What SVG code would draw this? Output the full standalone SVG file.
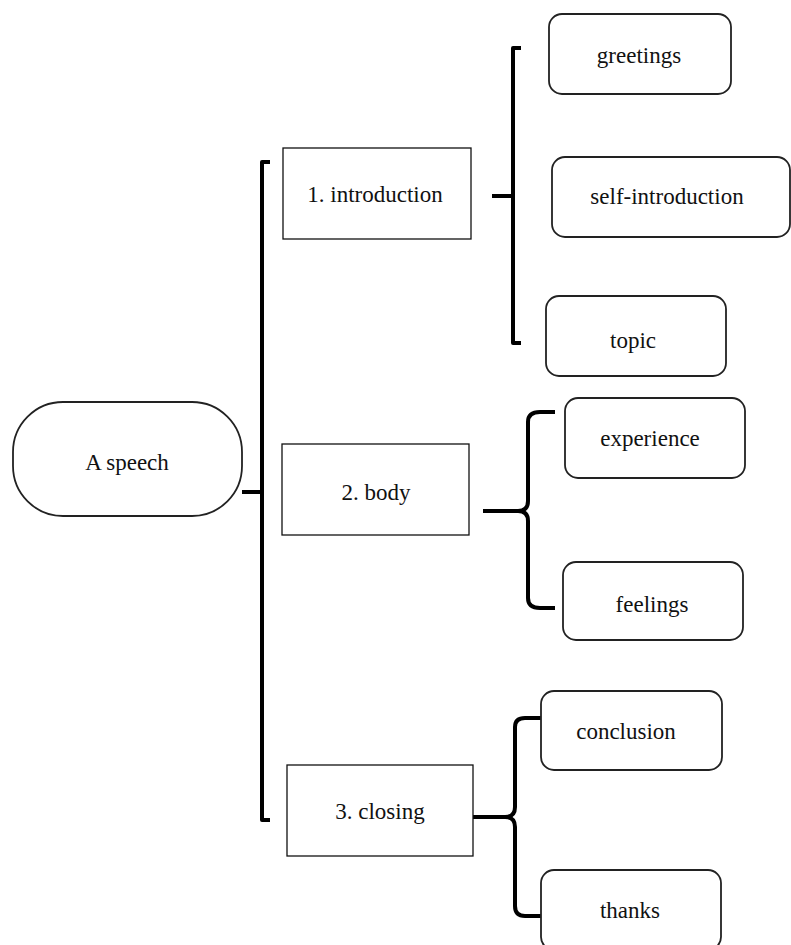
<svg xmlns="http://www.w3.org/2000/svg" width="791" height="945" viewBox="0 0 791 945">
<style>
.rect{fill:#fff;stroke:#111;stroke-width:1.3}
.rnd{fill:#fff;stroke:#222;stroke-width:1.8}
.lbl{font-family:"Liberation Serif","Times New Roman",serif;font-size:23px;fill:#111;text-anchor:middle;dominant-baseline:central}
.con{fill:none;stroke:#000;stroke-width:4;stroke-linecap:butt;stroke-linejoin:round}
</style>
<rect width="791" height="945" fill="#fff"/>
<g id="connectors">
<path class="con" d="M242 492 H262"/>
<path class="con" d="M270 162 H262 V820 H270"/>
<path class="con" d="M492 196 H513"/>
<path class="con" d="M521 48 H513 V343 H521"/>
<path class="con" d="M483 511 H518 Q528 511 528 501 V422 Q528 412 540 412 H555"/>
<path class="con" d="M518 511 Q528 511 528 521 V598 Q528 608 540 608 H555"/>
<path class="con" d="M473 817 H505 Q515 817 515 807 V727 Q515 718 525 718 H543"/>
<path class="con" d="M505 817 Q515 817 515 827 V906 Q515 916 525 916 H543"/>
</g>
<g id="root"><rect class="rnd" x="13" y="402" width="229" height="114" rx="50" ry="50"/><text class="lbl" x="127" y="462">A speech</text></g>
<g id="n1"><rect class="rect" x="283" y="148" width="188" height="91"/><text class="lbl" x="375" y="194">1. introduction</text></g>
<g id="n2"><rect class="rect" x="282" y="444" width="187" height="91"/><text class="lbl" x="376" y="492">2. body</text></g>
<g id="n3"><rect class="rect" x="287" y="765" width="186" height="91"/><text class="lbl" x="380" y="811">3. closing</text></g>
<g id="greetings"><rect class="rnd" x="549" y="14" width="182" height="80" rx="13"/><text class="lbl" x="639" y="55">greetings</text></g>
<g id="selfintro"><rect class="rnd" x="552" y="157" width="238" height="80" rx="13"/><text class="lbl" x="667" y="196">self-introduction</text></g>
<g id="topic"><rect class="rnd" x="546" y="296" width="180" height="80" rx="13"/><text class="lbl" x="633" y="340">topic</text></g>
<g id="experience"><rect class="rnd" x="565" y="398" width="180" height="80" rx="13"/><text class="lbl" x="650" y="438">experience</text></g>
<g id="feelings"><rect class="rnd" x="563" y="562" width="180" height="78" rx="13"/><text class="lbl" x="652" y="604">feelings</text></g>
<g id="conclusion"><rect class="rnd" x="541" y="691" width="181" height="79" rx="13"/><text class="lbl" x="626" y="731">conclusion</text></g>
<g id="thanks"><rect class="rnd" x="541" y="870" width="180" height="80" rx="13"/><text class="lbl" x="630" y="910">thanks</text></g>
</svg>
